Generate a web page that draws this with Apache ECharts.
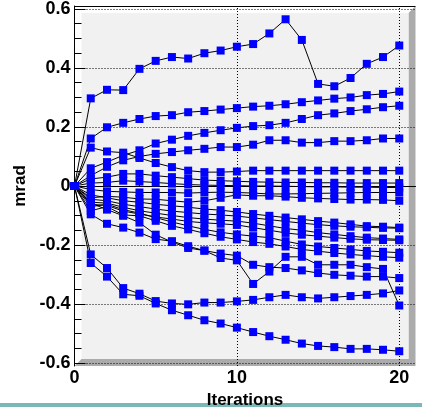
<!DOCTYPE html>
<html><head><meta charset="utf-8">
<script src="https://cdn.jsdelivr.net/npm/echarts@6/dist/echarts.min.js"></script>
<style>html,body{margin:0;padding:0;background:#fff}#c{width:422px;height:407px}</style>
</head><body><div id="c"></div>
<script>
// ---- data ----
const iterations = [0,1,2,3,4,5,6,7,8,9,10,11,12,13,14,15,16,17,18,19,20];
const run01 = [0,0.297,0.326,0.325,0.397,0.424,0.437,0.432,0.450,0.459,0.472,0.481,0.517,0.565,0.495,0.346,0.338,0.366,0.414,0.437,0.476];
const run02 = [0,0.161,0.199,0.214,0.227,0.237,0.240,0.250,0.254,0.259,0.264,0.269,0.272,0.277,0.284,0.290,0.296,0.300,0.308,0.312,0.320];
const run03 = [0,0.060,0.081,0.104,0.121,0.144,0.157,0.170,0.180,0.189,0.197,0.203,0.206,0.214,0.227,0.240,0.246,0.254,0.260,0.267,0.272];
const run04 = [0,0.130,0.117,0.113,0.095,0.078,0.064,0.052,0.047,0.047,0.049,0.052,0.052,0.052,0.052,0.052,0.052,0.052,0.052,0.052,0.052];
const run05 = [0,0.035,0.065,0.087,0.100,0.109,0.115,0.121,0.126,0.132,0.132,0.140,0.155,0.155,0.147,0.147,0.152,0.152,0.155,0.161,0.161];
const run06 = [0,0.024,0.030,0.041,0.041,0.035,0.030,0.025,0.020,0.018,0.016,0.014,0.013,0.012,0.012,0.011,0.011,0.010,0.010,0.010,0.010];
const run07 = [0,0.010,0.012,0.018,0.015,0.012,0.008,0.005,0.003,0.002,0.001,0.000,0.000,-0.001,-0.002,-0.003,-0.003,-0.004,-0.004,-0.005,-0.005];
const run08 = [0,-0.012,-0.018,-0.020,-0.022,-0.022,-0.022,-0.024,-0.022,-0.021,-0.022,-0.024,-0.027,-0.027,-0.026,-0.025,-0.024,-0.023,-0.022,-0.022,-0.022];
const run09 = [0,-0.040,-0.035,-0.038,-0.044,-0.045,-0.050,-0.055,-0.050,-0.040,-0.030,-0.033,-0.033,-0.036,-0.040,-0.042,-0.044,-0.046,-0.046,-0.047,-0.050];
const run10 = [0,-0.030,-0.040,-0.050,-0.055,-0.062,-0.067,-0.072,-0.078,-0.082,-0.088,-0.095,-0.101,-0.107,-0.113,-0.119,-0.124,-0.130,-0.136,-0.138,-0.141];
const run11 = [0,-0.045,-0.050,-0.062,-0.070,-0.078,-0.085,-0.090,-0.095,-0.098,-0.102,-0.108,-0.114,-0.120,-0.126,-0.131,-0.135,-0.138,-0.140,-0.142,-0.143];
const run12 = [0,-0.055,-0.058,-0.072,-0.084,-0.092,-0.100,-0.107,-0.112,-0.116,-0.119,-0.126,-0.135,-0.144,-0.150,-0.158,-0.164,-0.170,-0.175,-0.178,-0.181];
const run13 = [0,-0.062,-0.066,-0.085,-0.095,-0.105,-0.112,-0.120,-0.125,-0.128,-0.132,-0.141,-0.150,-0.159,-0.165,-0.170,-0.175,-0.179,-0.182,-0.183,-0.184];
const run14 = [0,-0.070,-0.062,-0.080,-0.092,-0.107,-0.122,-0.135,-0.147,-0.157,-0.164,-0.170,-0.175,-0.187,-0.198,-0.205,-0.210,-0.215,-0.220,-0.223,-0.226];
const run15 = [0,-0.084,-0.070,-0.098,-0.101,-0.118,-0.135,-0.147,-0.160,-0.172,-0.181,-0.190,-0.196,-0.205,-0.215,-0.221,-0.227,-0.232,-0.236,-0.240,-0.243];
const run16 = [0,-0.096,-0.128,-0.141,-0.158,-0.180,-0.187,-0.204,-0.219,-0.229,-0.236,-0.267,-0.275,-0.278,-0.286,-0.295,-0.301,-0.304,-0.307,-0.307,-0.312];
const run17 = [0,-0.058,-0.080,-0.101,-0.124,-0.165,-0.190,-0.210,-0.219,-0.244,-0.252,-0.332,-0.290,-0.240,-0.240,-0.267,-0.267,-0.267,-0.275,-0.281,-0.405];
const run18 = [0,-0.232,-0.278,-0.346,-0.365,-0.390,-0.398,-0.401,-0.395,-0.395,-0.391,-0.386,-0.377,-0.369,-0.377,-0.381,-0.377,-0.373,-0.369,-0.364,-0.354];
const run19 = [0,-0.261,-0.307,-0.367,-0.372,-0.398,-0.421,-0.438,-0.455,-0.466,-0.480,-0.495,-0.509,-0.521,-0.534,-0.542,-0.546,-0.552,-0.552,-0.555,-0.560];

const xMajorTicks = [0,10,20];
const xMinorTicks = [2,4,6,8,12,14,16,18];
const yMajorTicks = [-0.6,-0.4,-0.2,0,0.2,0.4,0.6];
const yMinorTicks = [-0.55,-0.5,-0.45,-0.35,-0.3,-0.25,-0.15,-0.1,-0.05,0.05,0.1,0.15,0.25,0.3,0.35,0.45,0.5,0.55];
const xGridLines = [10,20];
const yGridLines = [-0.6,-0.4,-0.2,0,0.2,0.4,0.6];

// ---- chart ----
const runs = [run01,run02,run03,run04,run05,run06,run07,run08,run09,run10,run11,run12,run13,run14,run15,run16,run17,run18,run19];
const FONT = "'Liberation Sans', Arial, Helvetica, sans-serif";
const L = 74.5, R = 415.5, T = 6, B = 366, BEV = 7, W = 422, H = 407;

const chart = echarts.init(document.getElementById('c'), null, {renderer:'canvas', width:W, height:H});

const dotted = {type:[1,2], color:'#000', width:1};
const series = runs.map((r, k) => {
  const s = {
    type:'line',
    data: iterations.map((x, i) => [x, r[i]]),
    symbol:'rect', symbolSize:8, showSymbol:true, clip:false,
    itemStyle:{color:'#0000ff'},
    lineStyle:{color:'#000', width:1},
    emphasis:{disabled:true}, silent:true, animation:false
  };
  if (k === 0) {
    s.markLine = {
      z:1, silent:true, animation:false, symbol:['none','none'],
      label:{show:false}, lineStyle:dotted, emphasis:{disabled:true},
      data: xGridLines.map(v => ({xAxis:v})).concat(yGridLines.map(v => ({yAxis:v})))
    };
  }
  return s;
});

const labelStyle = {color:'#000', fontFamily:FONT, fontWeight:'bold', fontSize:18};
const titleStyle = {color:'#000', fontFamily:FONT, fontWeight:'bold', fontSize:17};

chart.setOption({
  animation:false,
  backgroundColor:'#ffffff',
  textStyle:{fontFamily:FONT},
  grid:{left:L, right:W-R, top:T, bottom:H-B, containLabel:false, outerBoundsMode:'none'},
  graphic:[
    {type:'polygon', z:-10, shape:{points:[[L,T],[R,T],[R-BEV,T+BEV],[L+BEV,T+BEV],[L+BEV,B-BEV],[L,B]]}, style:{fill:'#ffffff'}},
    {type:'polygon', z:-10, shape:{points:[[R,T],[R,B],[L,B],[L+BEV,B-BEV],[R-BEV,B-BEV],[R-BEV,T+BEV]]}, style:{fill:'#ababab'}},
    {type:'rect', z:-10, shape:{x:L+BEV, y:T+BEV, width:R-L-2*BEV, height:B-T-2*BEV}, style:{fill:'#f1f1f1'}},
    {type:'line', z:-5, shape:{x1:L, y1:T+0.5, x2:R, y2:T+0.5}, style:{stroke:'#000', lineWidth:1}},
    {type:'rect', z:-10, shape:{x:0, y:403, width:W, height:4}, style:{fill:'#7ab9b6'}}
  ],
  xAxis:[{
    type:'value', min:0, max:21, position:'bottom',
    axisLine:{show:true, lineStyle:{color:'#000', width:1}},
    axisTick:{show:true, inside:true, length:10, customValues:xMajorTicks, lineStyle:{color:'#000'}},
    axisLabel:{show:true, customValues:xMajorTicks, margin:3, ...labelStyle, formatter:v => String(v)},
    splitLine:{show:false},
    name:'Iterations', nameLocation:'middle', nameGap:24,
    nameTextStyle:titleStyle
  },{
    type:'value', min:0, max:21, position:'bottom',
    axisLine:{show:false},
    axisTick:{show:true, inside:true, length:5, customValues:xMinorTicks, lineStyle:{color:'#000'}},
    axisLabel:{show:false}, splitLine:{show:false}
  }],
  yAxis:[{
    type:'value', min:-0.61, max:0.61, position:'left',
    axisLine:{show:true, lineStyle:{color:'#000', width:1}},
    axisTick:{show:true, inside:true, length:11, customValues:yMajorTicks, lineStyle:{color:'#000'}},
    axisLabel:{show:true, customValues:yMajorTicks, margin:4, ...labelStyle,
      formatter:v => (Math.abs(v) < 1e-9 ? '0' : Number(v).toFixed(1))},
    splitLine:{show:false},
    name:'mrad', nameLocation:'middle', nameRotate:90, nameGap:24,
    nameTextStyle:titleStyle
  },{
    type:'value', min:-0.61, max:0.61, position:'left',
    axisLine:{show:false},
    axisTick:{show:true, inside:true, length:7, customValues:yMinorTicks, lineStyle:{color:'#000'}},
    axisLabel:{show:false}, splitLine:{show:false}
  }],
  series: series
});
</script>
</body></html>
